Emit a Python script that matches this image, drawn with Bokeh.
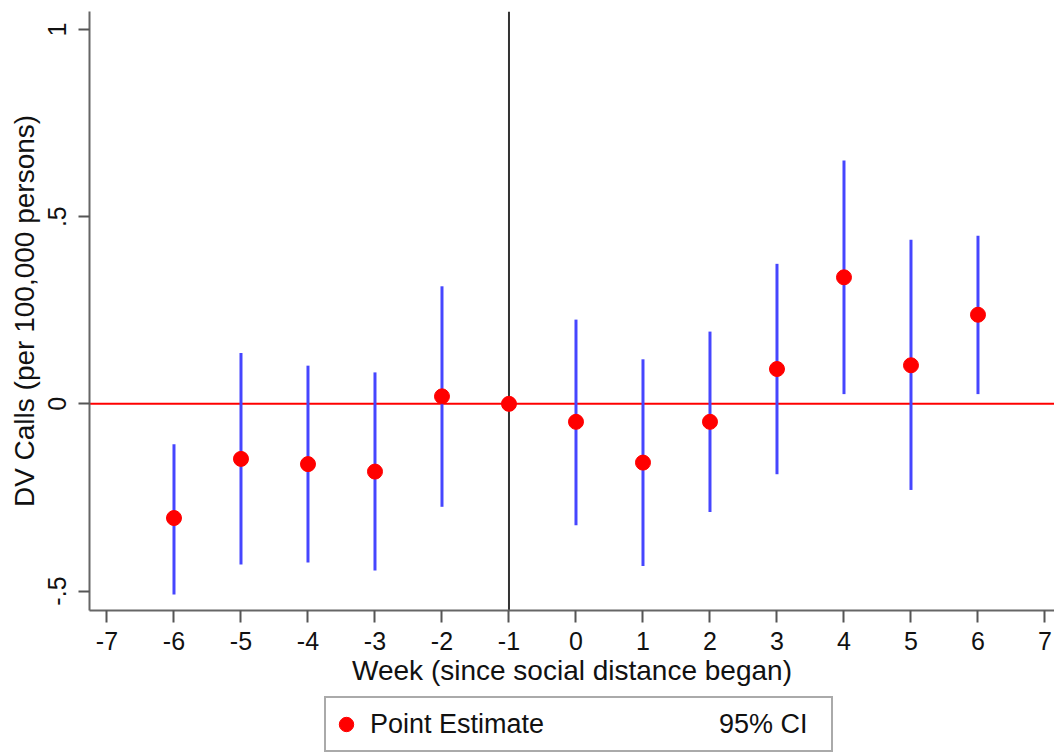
from bokeh.plotting import figure
from bokeh.layouts import column
from bokeh.models import (Range1d, FixedTicker, CustomJSTickFormatter, Span,
                          ColumnDataSource, Legend, LegendItem)
from bokeh.embed import file_html
from bokeh.resources import INLINE

# ---- data ----
weeks = [-6, -5, -4, -3, -2, -1, 0, 1, 2, 3, 4, 5, 6]
point_estimate = [-0.305, -0.147, -0.161, -0.181, 0.020, 0.0, -0.048,
                  -0.157, -0.048, 0.093, 0.338, 0.103, 0.238]
ci_low = [-0.509, -0.429, -0.424, -0.445, -0.275, 0.0, -0.324,
          -0.433, -0.289, -0.188, 0.026, -0.230, 0.026]
ci_high = [-0.108, 0.136, 0.102, 0.084, 0.314, 0.0, 0.225,
           0.119, 0.193, 0.374, 0.650, 0.438, 0.449]
x_ticks = list(range(-7, 8))
y_ticks = [-0.5, 0, 0.5, 1]
legend_labels = ["Point Estimate", "95% CI"]

FONT = "Liberation Sans"
RED = "#ff0000"
BLUE = "#4646ff"

src = ColumnDataSource(dict(week=weeks, est=point_estimate, lo=ci_low, hi=ci_high))

p = figure(width=1054, height=692, output_backend="svg", toolbar_location=None,
           x_range=Range1d(-7.261, 7.142), y_range=Range1d(-0.552, 1.048),
           min_border_left=89, min_border_right=0, min_border_top=11,
           min_border_bottom=82)
p.outline_line_color = None
p.xgrid.visible = False
p.ygrid.visible = False
p.background_fill_color = "white"
p.border_fill_color = "white"

# reference lines
p.add_layout(Span(location=0, dimension="width", line_color=RED,
                  line_width=2, level="underlay"))
p.add_layout(Span(location=-1, dimension="height", line_color="#333333",
                  line_width=2, level="underlay"))

p.segment(x0="week", y0="lo", x1="week", y1="hi", source=src,
          line_color=BLUE, line_width=3)
p.scatter(x="week", y="est", source=src, size=15, fill_color=RED,
          line_color=RED)

# axes
for ax in (p.xaxis[0], p.yaxis[0]):
    ax.axis_line_color = "#666666"
    ax.axis_line_width = 2
    ax.major_tick_line_color = "#555555"
    ax.major_tick_line_width = 2
    ax.major_tick_in = 0
    ax.minor_tick_line_color = None
    ax.major_label_text_font = FONT
    ax.major_label_text_color = "#111111"
    ax.axis_label_text_font = FONT
    ax.axis_label_text_color = "#111111"
    ax.axis_label_text_font_style = "normal"

xa = p.xaxis[0]
xa.ticker = FixedTicker(ticks=x_ticks)
xa.formatter = CustomJSTickFormatter(code="return tick.toString();")
xa.major_tick_out = 12
xa.major_label_standoff = 9
xa.major_label_text_font_size = "25px"
xa.axis_label = "Week (since social distance began)"
xa.axis_label_text_font_size = "28px"
xa.axis_label_standoff = 2

ya = p.yaxis[0]
ya.ticker = FixedTicker(ticks=y_ticks)
ya.formatter = CustomJSTickFormatter(
    code="if (tick == 0) { return '0'; } return tick.toString().replace('0.', '.');")
ya.major_label_orientation = "vertical"
ya.major_tick_out = 11
ya.major_label_standoff = 12
ya.major_label_text_font_size = "25px"
ya.axis_label = "DV Calls (per 100,000 persons)"
ya.axis_label_text_font_size = "28px"
ya.axis_label_standoff = 6

# ---- legend strip below the chart (its ranges keep the data out of view) ----
lf = figure(width=1054, height=60, output_backend="svg", toolbar_location=None,
            x_axis_location=None, y_axis_location=None,
            x_range=Range1d(100, 101), y_range=Range1d(100, 101),
            min_border_left=0, min_border_right=0, min_border_top=0,
            min_border_bottom=0)
lf.outline_line_color = None
lf.xgrid.visible = False
lf.ygrid.visible = False
lf.background_fill_color = "white"
lf.border_fill_color = "white"
dot = lf.scatter(x="week", y="est", source=src, fill_color=RED, line_color=RED)
blank = lf.scatter(x="week", y="est", source=src, fill_alpha=0, line_alpha=0)

legend = Legend(items=[LegendItem(label=legend_labels[0], renderers=[dot], index=0),
                       LegendItem(label=legend_labels[1], renderers=[blank], index=0)],
                orientation="horizontal", location=(235, 0),
                label_text_font=FONT, label_text_font_size="27px",
                label_text_color="#111111",
                glyph_width=36, glyph_height=48, label_standoff=6,
                label_width=110, spacing=133, padding=2, margin=0,
                border_line_color="#555555", border_line_width=2,
                background_fill_color="white", background_fill_alpha=1)
lf.add_layout(legend, "center")

open("out.html", "w").write(file_html(column(p, lf, spacing=0), INLINE))
